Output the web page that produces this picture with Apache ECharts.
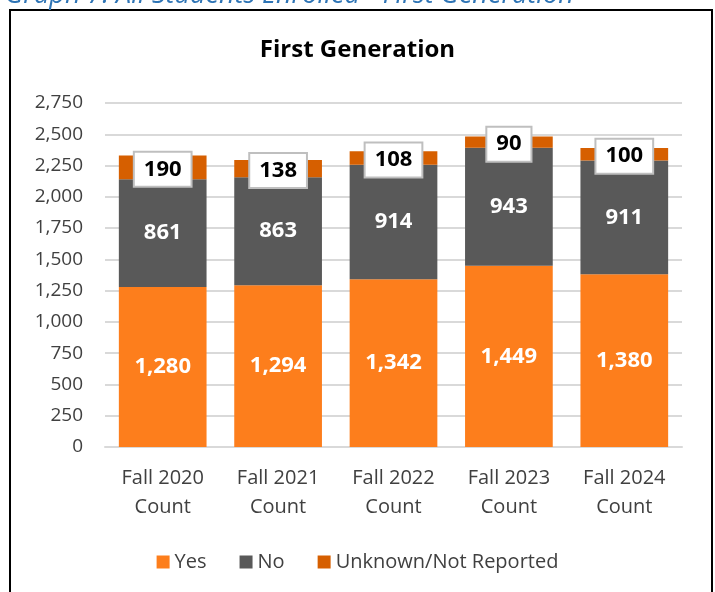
<!DOCTYPE html>
<html>
<head>
<meta charset="utf-8">
<script src="https://cdn.jsdelivr.net/npm/echarts@6/dist/echarts.min.js"></script>
<style>
  html, body { margin: 0; padding: 0; background: #fff; }
  #chart { width: 715px; height: 592px; }
</style>
</head>
<body>
<div id="chart"></div>
<script>
const categories = ['Fall 2020\nCount', 'Fall 2021\nCount', 'Fall 2022\nCount', 'Fall 2023\nCount', 'Fall 2024\nCount']
const yesVals = [1280, 1294, 1342, 1449, 1380]
const noVals = [861, 863, 914, 943, 911]
const unknownVals = [190, 138, 108, 90, 100]

const FONT = '"Open Sans", Lato, sans-serif'
const fmt = v => v.toLocaleString('en-US')

const chart = echarts.init(document.getElementById('chart'))

const inLabel = {
  show: true, position: 'inside', color: '#fff', fontFamily: FONT,
  fontWeight: 'bold', fontSize: 22, formatter: p => fmt(p.value),
}

chart.setOption({
  animation: false,
  textStyle: { fontFamily: FONT },
  graphic: [
    {
      type: 'text', left: 5, top: -18,
      style: { text: 'Graph 7: All Students Enrolled - First Generation', fill: '#2e74b5', font: 'italic 27px ' + FONT },
    },
    {
      type: 'rect', shape: { x: 10, y: 10, width: 702, height: 600 },
      style: { fill: 'none', stroke: '#000', lineWidth: 2 }, z: -1,
    },
  ],
  title: {
    text: 'First Generation', left: 'center', top: 33,
    textStyle: { fontFamily: FONT, fontWeight: 'bold', fontSize: 24, color: '#000' },
  },
  grid: { left: 105, right: 33, top: 103, bottom: 145 },
  legend: {
    bottom: 15, left: 'center', itemWidth: 13, itemHeight: 13, itemGap: 33,
    icon: 'rect',
    textStyle: { fontFamily: FONT, fontSize: 20, color: '#404040' },
    data: ['Yes', 'No', 'Unknown/Not Reported'],
  },
  xAxis: {
    type: 'category', data: categories,
    axisLine: { lineStyle: { color: '#d9d9d9', width: 2 } },
    axisTick: { show: false },
    axisLabel: { color: '#404040', fontSize: 20, lineHeight: 29, margin: 17, fontFamily: FONT },
  },
  yAxis: {
    type: 'value', min: 0, max: 2750, interval: 250,
    axisLine: { show: false }, axisTick: { show: false },
    axisLabel: { color: '#404040', fontSize: 19, margin: 22, formatter: v => fmt(v), fontFamily: FONT },
    splitLine: { lineStyle: { color: '#d9d9d9', width: 2 } },
  },
  series: [
    {
      name: 'Yes', type: 'bar', stack: 'total', data: yesVals, barCategoryGap: '24%',
      itemStyle: { color: '#fd7e1c' }, label: inLabel,
    },
    {
      name: 'No', type: 'bar', stack: 'total', data: noVals,
      itemStyle: { color: '#595959' }, label: inLabel,
    },
    {
      name: 'Unknown/Not Reported', type: 'bar', stack: 'total', data: unknownVals,
      itemStyle: { color: '#d65f00' },
      label: {
        show: true, position: 'inside', color: '#000', fontFamily: FONT,
        fontWeight: 'bold', fontSize: 22, backgroundColor: '#fff',
        borderColor: '#bfbfbf', borderWidth: 2, padding: [6, 9, 5, 9],
        offset: [0, 2],
        formatter: p => fmt(p.value),
      },
    },
  ],
})
</script>
</body>
</html>
